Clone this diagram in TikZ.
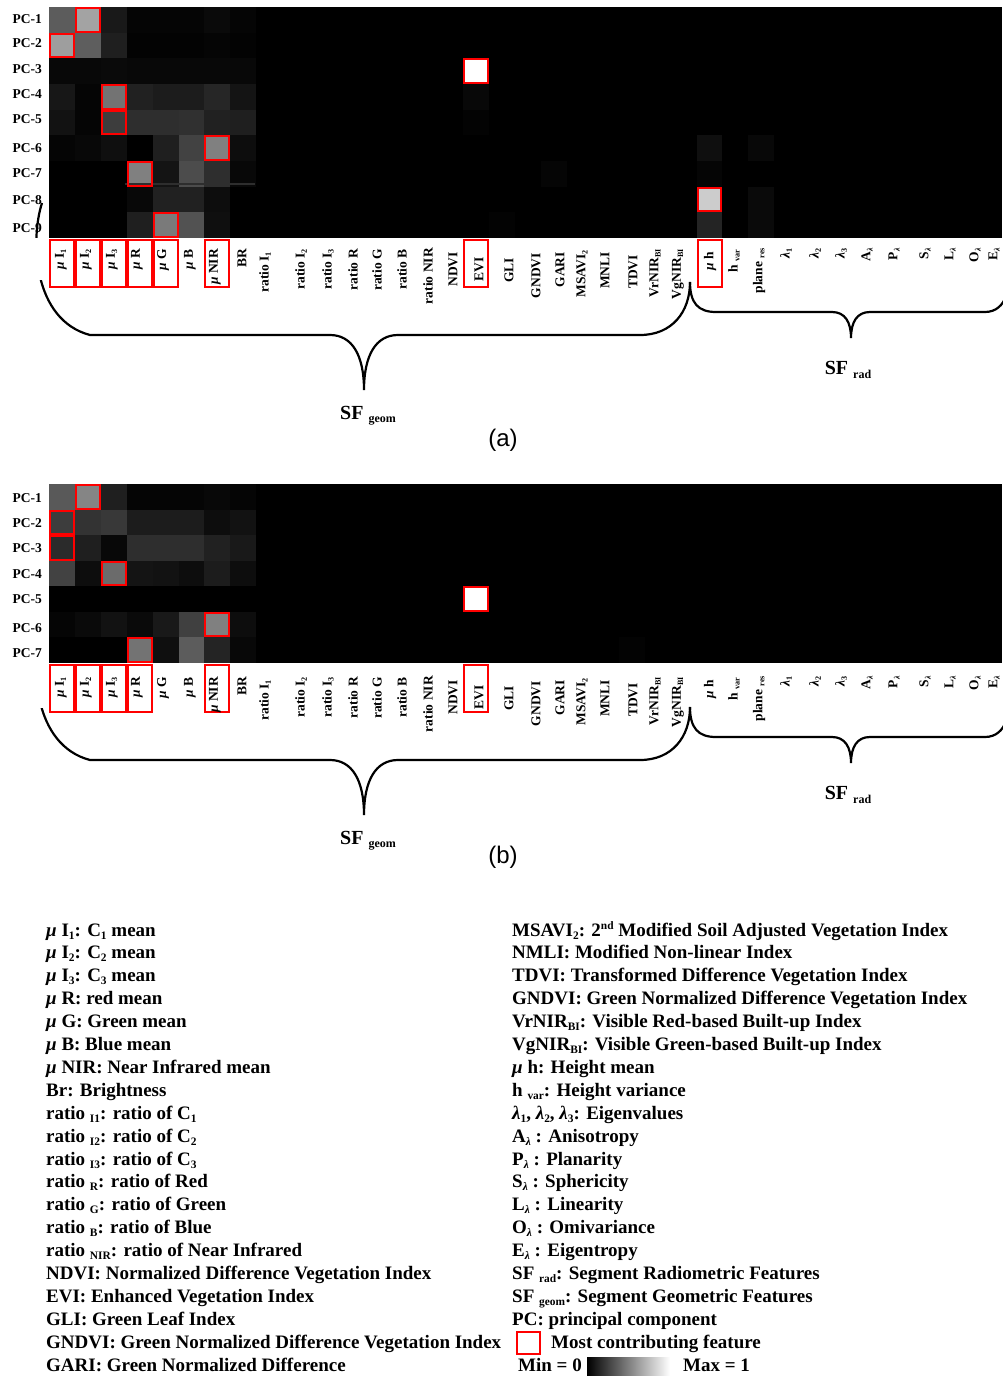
\documentclass[tikz,border=0pt]{standalone}
\usepackage{fontspec}
\setmainfont{Liberation Serif}
\newfontfamily\helv{Liberation Sans}
\usepackage{graphicx}
\newcommand\low[1]{\raisebox{-0.35ex}{\scalebox{0.6}{#1}}}
\newcommand\upp[1]{\raisebox{0.75ex}{\scalebox{0.6}{#1}}}
\newcommand\mmu{{\itshape μ}}
\newcommand\lam{{\itshape λ}}
\tikzset{
  collbl/.style={font=\fontsize{13.5}{14}\selectfont\bfseries, rotate=90, anchor=east, inner sep=0pt},
  pclbl/.style={font=\fontsize{13.5}{14}\selectfont\bfseries, anchor=east, inner sep=0pt},
  lgd/.style={font=\fontsize{19}{20}\selectfont\bfseries, anchor=base west, inner sep=0pt},
  sflbl/.style={font=\fontsize{20}{22}\selectfont\bfseries, inner sep=0pt},
  sublbl/.style={font=\helv\fontsize{24}{26}\selectfont, inner sep=0pt},
  hlbox/.style={draw=red, line width=2pt},
  bracestroke/.style={draw=black, line width=2.2pt},
}
\newcommand\cellfill[3]{%
  \foreach \c/\r/\v in {#3}
    \fill[white!\v!black] ({49+\c*25.9},{#1+\r*#2}) rectangle ++(25.95,#2+0.05);}
\newcommand\cellbox[3]{%
  \foreach \c/\r in {#3}
    \draw[hlbox] ({49+\c*25.9+1},{#1+\r*#2+1}) rectangle ++(23.9,{#2-2});}
\newcommand\collabels[2]{%
  \foreach \x/\y/\t [count=\i] in {
    61/249/{\mmu\ I\low{1}}, 86/249/{\mmu\ I\low{2}}, 112/249/{\mmu\ I\low{3}},
    137/249/{\mmu\ R}, 163/249/{\mmu\ G}, 190/249/{\mmu\ B}, 215/249/{\mmu\ NIR},
    242/249/BR, 265/252/{ratio I\low{1}}, 301/249/{ratio I\low{2}}, 328/249/{ratio I\low{3}},
    353/249/{ratio R}, 377/249/{ratio G}, 402/249/{ratio B}, 428/248/{ratio NIR},
    453/252/NDVI, 479/257/EVI, 509/258/GLI, 536/253/GNDVI, 560/252/GARI,
    582/250/{MSAVI\low{2}}, 605/252/MNLI, 633/255/TDVI, 655/249/{VrNIR\low{BI}},
    678/249/{VgNIR\low{BI}}, 710/252/{\mmu\ h}, 734/250/{h \low{var}}, 759/248/{plane \low{res}},
    786/248/{\lam\low{1}}, 815/248/{\lam\low{2}}, 841/248/{\lam\low{3}},
    867/248/{A\low{\lam}}, 894/248/{P\low{\lam}}, 925/248/{S\low{\lam}},
    950/248/{L\low{\lam}}, 975/248/{O\low{\lam}}, 994/248/{E\low{\lam}}}
    \node[collbl] (#1\i) at (\x,\y+#2) {\t};}
\newcommand\braces{%
  \draw[bracestroke] (42,203) .. controls (30,240) and (33,320) .. (90,335)
     -- (330,335) .. controls (352,335) and (364,355) .. (364,390)
     .. controls (364,355) and (376,335) .. (398,335)
     -- (640,335) .. controls (672,335) and (690,312) .. (690,282);
  \draw[bracestroke] (690,282) .. controls (690,303) and (698,312) .. (716,312)
     -- (832,312) .. controls (845,312) and (851,322) .. (851,338)
     .. controls (851,322) and (857,312) .. (870,312)
     -- (985,312) .. controls (996,312) and (1003,305) .. (1006,296);}
\begin{document}
\begin{tikzpicture}[x=1pt,y=-1pt]
\fill[white] (0,0) rectangle (1002,1376);
\path[use as bounding box] (0,0) rectangle (1002,1376);

% ---------------- (a) ----------------
\braces
\fill[white] (26,238) rectangle (47.5,280);
\fill[black] (49,7) rectangle (1002,238);
\cellfill{7}{25.67}{0/0/36, 1/0/64, 2/0/10, 3/0/2, 4/0/2, 5/0/2, 6/0/4, 7/0/2,
  0/1/62, 1/1/37, 2/1/12, 3/1/1, 4/1/1, 5/1/1, 6/1/2, 7/1/1,
  0/2/3, 1/2/3, 2/2/4, 3/2/3, 4/2/3, 5/2/3, 6/2/3, 7/2/3, 16/2/100,
  0/3/9, 1/3/2, 2/3/45, 3/3/13, 4/3/11, 5/3/11, 6/3/15, 7/3/8, 16/3/3,
  0/4/7, 1/4/2, 2/4/24, 3/4/18, 4/4/18, 5/4/19, 6/4/13, 7/4/12, 16/4/1,
  0/5/2, 1/5/3, 2/5/6, 4/5/12, 5/5/26, 6/5/50, 7/5/5, 25/5/6, 27/5/3,
  3/6/50, 4/6/8, 5/6/30, 6/6/18, 7/6/3, 25/6/2, 19/6/2,
  3/7/3, 4/7/13, 5/7/13, 6/7/5, 25/7/80, 27/7/4,
  3/8/12, 4/8/48, 5/8/32, 6/8/6, 25/8/14, 27/8/4, 17/8/1}
\draw[white!18!black, line width=1.2pt] (125,184) -- (255,184);
\cellbox{7}{25.67}{1/0, 0/1, 16/2, 2/3, 2/4, 6/5, 3/6, 25/7, 4/8}
\foreach \c in {0,1,2,3,4,6,16,25}
  \draw[hlbox] ({49+\c*25.9+1},240) rectangle ++(24,47);
\collabels{la}{0}
\foreach \y [count=\i] in {19,43,69,94,119,148,173,200,228}
  \node[pclbl] (pa\i) at (42,\y) {PC-\i};
\node[sflbl] (sfga) at (368,416) {SF \low{geom}};
\node[sflbl] (sfra) at (848,370) {SF \low{rad}};
\node[sublbl] (capa) at (503,440) {(a)};

% ---------------- (b) ----------------
\begin{scope}[shift={(0,425)}]
\braces
\fill[white] (26,190) rectangle (47.5,283);
\end{scope}
\fill[black] (49,484) rectangle (1002,663);
\cellfill{484}{25.57}{0/0/35, 1/0/52, 2/0/12, 3/0/2, 4/0/2, 5/0/2, 6/0/3, 7/0/2,
  0/1/24, 1/1/20, 2/1/22, 3/1/11, 4/1/11, 5/1/11, 6/1/5, 7/1/7,
  0/2/17, 1/2/12, 2/2/3, 3/2/18, 4/2/18, 5/2/18, 6/2/13, 7/2/10,
  0/3/26, 1/3/5, 2/3/42, 3/3/8, 4/3/7, 5/3/5, 6/3/11, 7/3/5,
  16/4/100,
  0/5/2, 1/5/4, 2/5/7, 3/5/4, 4/5/10, 5/5/25, 6/5/50, 7/5/5,
  3/6/45, 4/6/6, 5/6/36, 6/6/14, 7/6/3, 22/6/1}
\cellbox{484}{25.57}{1/0, 0/1, 0/2, 2/3, 16/4, 6/5, 3/6}
\foreach \c in {0,1,2,3,6,16}
  \draw[hlbox] ({49+\c*25.9+1},665) rectangle ++(24,47);
\collabels{lb}{428}
\foreach \y [count=\i] in {498,523,548,574,599,628,653}
  \node[pclbl] (pb\i) at (42,\y) {PC-\i};
\node[sflbl] (sfgb) at (368,841) {SF \low{geom}};
\node[sflbl] (sfrb) at (848,795) {SF \low{rad}};
\node[sublbl] (capb) at (503,857) {(b)};

% ---------------- legend ----------------
\foreach \t [count=\i] in {
  {\mmu\ I\low{1}: C\low{1} mean},
  {\mmu\ I\low{2}: C\low{2} mean},
  {\mmu\ I\low{3}: C\low{3} mean},
  {\mmu\ R: red mean},
  {\mmu\ G: Green mean},
  {\mmu\ B: Blue mean},
  {\mmu\ NIR: Near Infrared mean},
  {Br: Brightness},
  {ratio \low{I1}: ratio of C\low{1}},
  {ratio \low{I2}: ratio of C\low{2}},
  {ratio \low{I3}: ratio of C\low{3}},
  {ratio \low{R}: ratio of Red},
  {ratio \low{G}: ratio of Green},
  {ratio \low{B}: ratio of Blue},
  {ratio \low{NIR}: ratio of Near Infrared},
  {NDVI: Normalized Difference Vegetation Index},
  {EVI: Enhanced Vegetation Index},
  {GLI: Green Leaf Index},
  {GNDVI: Green Normalized Difference Vegetation Index},
  {GARI: Green Normalized Difference}}
  \node[lgd] (lgl\i) at (46,{936+(\i-1)*22.9}) {\t};
\foreach \t [count=\i] in {
  {MSAVI\low{2}: 2\upp{nd} Modified Soil Adjusted Vegetation Index},
  {NMLI: Modified Non-linear Index},
  {TDVI: Transformed Difference Vegetation Index},
  {GNDVI: Green Normalized Difference Vegetation Index},
  {VrNIR\low{BI}: Visible Red-based Built-up Index},
  {VgNIR\low{BI}: Visible Green-based Built-up Index},
  {\mmu\ h: Height mean},
  {h \low{var}: Height variance},
  {\lam\low{1}, \lam\low{2}, \lam\low{3}: Eigenvalues},
  {A\low{\lam} : Anisotropy},
  {P\low{\lam} : Planarity},
  {S\low{\lam} : Sphericity},
  {L\low{\lam} : Linearity},
  {O\low{\lam} : Omivariance},
  {E\low{\lam} : Eigentropy},
  {SF \low{rad}: Segment Radiometric Features},
  {SF \low{geom}: Segment Geometric Features},
  {PC: principal component}}
  \node[lgd] (lgr\i) at (512,{936+(\i-1)*22.9}) {\t};
\draw[hlbox] (517,1332) rectangle (540,1354);
\node[lgd] (lgmost) at (551,1348) {Most contributing feature};
\node[lgd] (lgmin) at (518,1371) {Min = 0};
\shade[left color=black, right color=white] (587,1357) rectangle (670,1375);
\node[lgd] (lgmax) at (683,1371) {Max = 1};
\end{tikzpicture}
\end{document}
